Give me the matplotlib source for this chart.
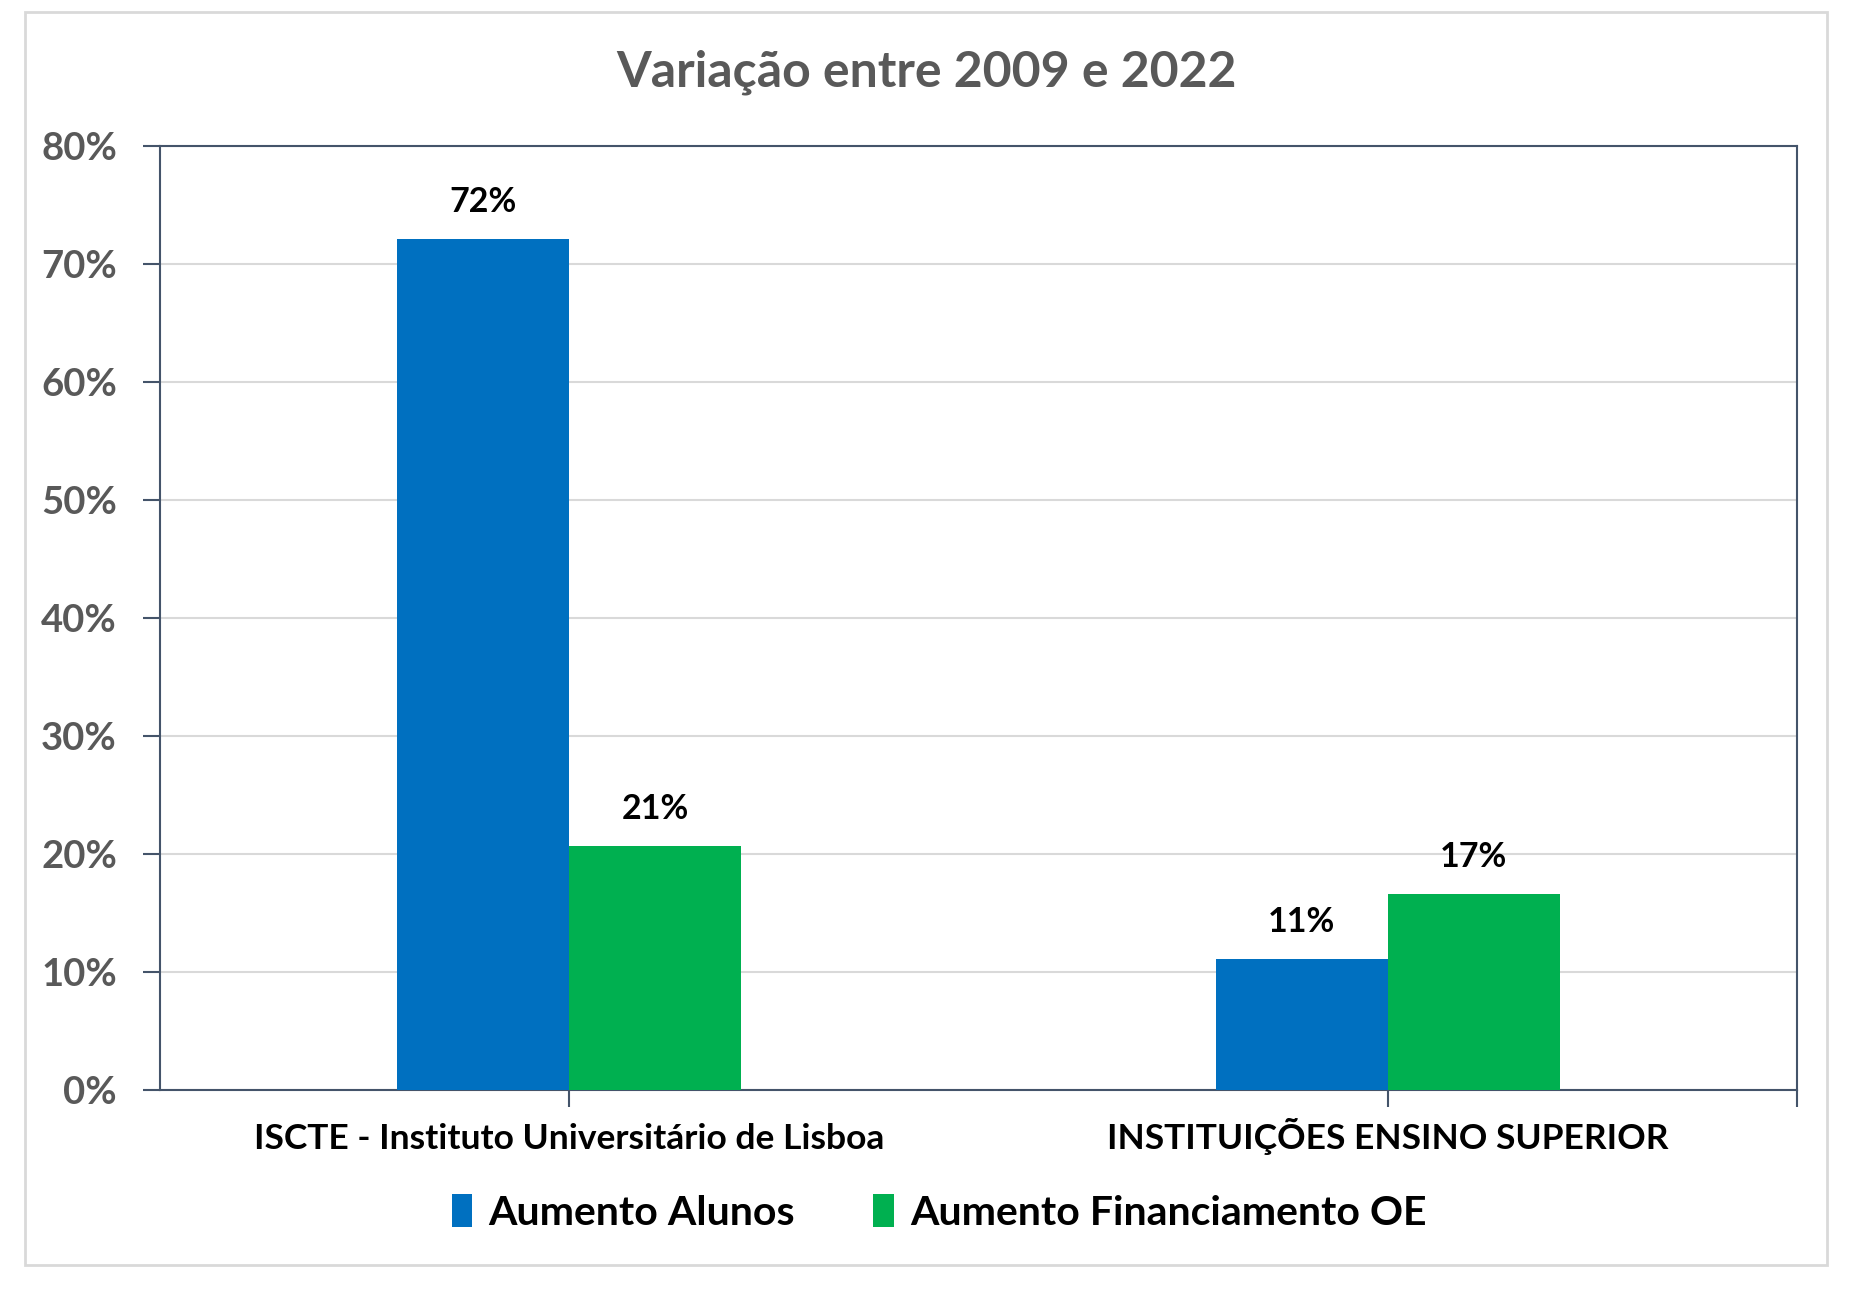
import matplotlib
matplotlib.use("Agg")
import matplotlib.pyplot as plt
from matplotlib.patches import Rectangle
from matplotlib.ticker import FuncFormatter
import numpy as np

categories = ["ISCTE - Instituto Universitário de Lisboa", "INSTITUIÇÕES ENSINO SUPERIOR"]
series_names = ["Aumento Alunos", "Aumento Financiamento OE"]
alunos = [72.1, 11.1]
financiamento = [20.7, 16.6]
alunos_labels = ["72%", "11%"]
financiamento_labels = ["21%", "17%"]
y_ticks = [0, 10, 20, 30, 40, 50, 60, 70, 80]

BLUE = "#0070C0"
GREEN = "#00B050"
GREY = "#595959"
AXIS = "#44546A"
FONT = ["Lato", "DejaVu Sans"]

plt.rcParams["font.family"] = FONT

fig = plt.figure(figsize=(18.56, 12.93), dpi=100)
fig.patches.append(Rectangle((25 / 1856, 1 - 1265 / 1293), 1802 / 1856, 1253 / 1293,
                             transform=fig.transFigure, fill=False,
                             edgecolor="#D9D9D9", linewidth=2))

ax = fig.add_axes([0.0862, 0.157, 0.882, 0.730])
x = np.arange(len(categories))
w = 0.21
b1 = ax.bar(x - w / 2, alunos, w, color=BLUE, label=series_names[0], zorder=3)
b2 = ax.bar(x + w / 2, financiamento, w, color=GREEN, label=series_names[1], zorder=3)

for bars, labels in ((b1, alunos_labels), (b2, financiamento_labels)):
    for bar, lab in zip(bars, labels):
        ax.annotate(lab, (bar.get_x() + bar.get_width() / 2, bar.get_height()),
                    xytext=(0, 15), textcoords="offset points", ha="center", va="bottom",
                    fontsize=24.5, fontweight="bold", color="black")

ax.set_xlim(-0.5, 1.5)
ax.set_ylim(0, 80)
ax.set_yticks(y_ticks)
ax.yaxis.set_major_formatter(FuncFormatter(lambda v, _: f"{v:.0f}%"))
ax.grid(axis="y", color="#D9D9D9", linewidth=1.5, zorder=0)
ax.tick_params(axis="y", labelsize=27.5, labelcolor=GREY, color=AXIS, length=12, width=1.5, pad=19)
for lab in ax.get_yticklabels():
    lab.set_fontweight("bold")

ax.set_xticks([0, 1, 1.5])
ax.set_xticklabels(["", "", ""])
ax.tick_params(axis="x", color=AXIS, length=12, width=1.5)
for xi, cat in zip(x, categories):
    ax.text(xi, -5.0, cat, ha="center", va="baseline", fontsize=25.5, fontweight="bold",
            color="black", transform=ax.transData)

for s in ax.spines.values():
    s.set_color(AXIS)
    s.set_linewidth(1.5)

fig.text(0.499, 0.933, "Variação entre 2009 e 2022", ha="center", va="baseline",
         fontsize=36, fontweight="bold", color=GREY)

fig.legend(handles=[b1, b2], loc="center", bbox_to_anchor=(0.506, 0.062),
           ncol=2, frameon=False, prop={"size": 29.5, "weight": "bold", "family": FONT},
           handlelength=0.5, handleheight=0.85, handletextpad=0.4, columnspacing=1.9)

fig.savefig("out.png", dpi=100)
